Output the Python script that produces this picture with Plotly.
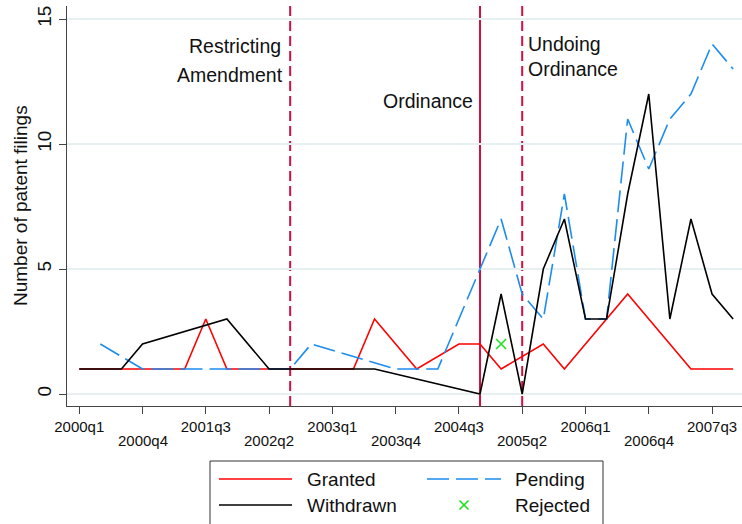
import plotly.graph_objects as go

# ---------------- data ----------------
quarters = ["2000q1", "2000q2", "2000q3", "2000q4", "2001q1", "2001q2", "2001q3", "2001q4",
            "2002q1", "2002q2", "2002q3", "2002q4", "2003q1", "2003q2", "2003q3", "2003q4",
            "2004q1", "2004q2", "2004q3", "2004q4", "2005q1", "2005q2", "2005q3", "2005q4",
            "2006q1", "2006q2", "2006q3", "2006q4", "2007q1", "2007q2", "2007q3", "2007q4"]

granted = [1, 1, 1, 1, 1, 1, 3, 1, 1, 1, 1, 1, 1, 1, 3, None,
           1, None, 2, 2, 1, None, 2, 1, None, None, 4, None, None, 1, 1, 1]
withdrawn = [1, 1, 1, 2, None, None, None, 3, None, 1, 1, 1, 1, 1, 1, None,
             None, None, None, 0, 4, 0, 5, 7, 3, 3, 8, 12, 3, 7, 4, 3]
pending = [None, 2, None, 1, 1, 1, 1, 1, 1, 1, 1, 2, None, None, None, 1,
           1, 1, None, None, 7, 4, 3, 8, 3, 3, 11, 9, 11, 12, 14, 13]
rejected = [None] * 20 + [2] + [None] * 11

tick_labels = ["2000q1", "2000q4", "2001q3", "2002q2", "2003q1", "2003q4",
               "2004q3", "2005q2", "2006q1", "2006q4", "2007q3"]
y_ticks = [0, 5, 10, 15]

events = {"2002q3": "dash", "2004q4": "solid", "2005q2": "dash"}

# ---------------- layout helpers ----------------
W, H = 742, 524
ML, MR, MT, MB = 67, 0, 6, 118
PW, PH = W - ML - MR, H - MT - MB


def px_x(px):
    return (px - ML) / PW


def px_y(py):
    return (H - MB - py) / PH


FONT = "Liberation Sans, Arial, sans-serif"
RED = "#ff0000"
BLUE = "#1c8cf0"
BLACK = "#000000"
GREEN = "#1ee01e"
CRAN = "#cf1041"

x = list(range(len(quarters)))
qidx = {q: i for i, q in enumerate(quarters)}
tickvals = [qidx[t] for t in tick_labels]

fig = go.Figure()
fig.add_trace(go.Scatter(x=x, y=granted, mode="lines", name="Granted", connectgaps=True,
                         line=dict(color=RED, width=1.6)))
fig.add_trace(go.Scatter(x=x, y=pending, mode="lines", name="Pending", connectgaps=True,
                         line=dict(color=BLUE, width=1.6, dash="22px,7px")))
fig.add_trace(go.Scatter(x=x, y=withdrawn, mode="lines", name="Withdrawn", connectgaps=True,
                         line=dict(color=BLACK, width=1.6)))
fig.add_trace(go.Scatter(x=x, y=rejected, mode="markers", name="Rejected",
                         marker=dict(symbol="x-thin", size=10, line=dict(color=GREEN, width=1.6))))

shapes = []
for q, d in events.items():
    shapes.append(dict(type="line", xref="x", yref="paper", x0=qidx[q], x1=qidx[q], y0=0, y1=1,
                       line=dict(color=CRAN, width=2, dash="10px,5px" if d == "dash" else "solid"),
                       layer="between"))

annotations = []
# event labels
ev_text = [
    ("Restricting", "2002q3", -7, 45.5, "right"),
    ("Amendment", "2002q3", -5, 74.5, "right"),
    ("Ordinance", "2004q4", -5, 101, "right"),
    ("Undoing", "2005q2", 4, 44, "left"),
    ("Ordinance", "2005q2", 4, 68.5, "left"),
]
for t, q, dx, py, anc in ev_text:
    annotations.append(dict(text=t, xref="x", yref="paper", x=qidx[q], y=px_y(py), xshift=dx,
                            xanchor=anc, yanchor="middle", showarrow=False,
                            font=dict(family=FONT, size=19.5, color="#111")))

# second row of x tick labels
for i, t in enumerate(tick_labels):
    if i % 2 == 1:
        annotations.append(dict(text=t, xref="x", yref="paper", x=qidx[t], y=px_y(441),
                                xanchor="center", yanchor="middle", showarrow=False,
                                font=dict(family=FONT, size=15, color="#111")))

# y title
annotations.append(dict(text="Number of patent filings", xref="paper", yref="paper",
                        x=px_x(20), y=0.5, textangle=-90, xanchor="center", yanchor="middle",
                        showarrow=False, font=dict(family=FONT, size=19, color="#111")))

# manual legend
shapes.append(dict(type="rect", xref="paper", yref="paper", x0=px_x(210), x1=px_x(603),
                   y0=px_y(461), y1=px_y(526), line=dict(color="#333", width=1), fillcolor="white",
                   layer="above"))
leg = [("Granted", 219, 292, 305, 479, RED, "solid"),
       ("Pending", 427, 501, 513, 479, BLUE, "22px,7px"),
       ("Withdrawn", 219, 292, 305, 505, BLACK, "solid"),
       ("Rejected", None, None, 513, 505, GREEN, None)]
for name, a, b, tx, ty, col, dash in leg:
    if a is not None:
        shapes.append(dict(type="line", xref="paper", yref="paper", x0=px_x(a), x1=px_x(b),
                           y0=px_y(ty), y1=px_y(ty), line=dict(color=col, width=1.6, dash=dash),
                           layer="above"))
    else:
        cx, cy, r = 464, ty, 4.5
        for s in (1, -1):
            shapes.append(dict(type="line", xref="paper", yref="paper", x0=px_x(cx - r), x1=px_x(cx + r),
                               y0=px_y(cy - s * r), y1=px_y(cy + s * r), line=dict(color=col, width=1.6),
                               layer="above"))
    annotations.append(dict(text=name, xref="paper", yref="paper", x=px_x(tx), y=px_y(ty),
                            xanchor="left", yanchor="middle", showarrow=False,
                            font=dict(family=FONT, size=19, color="#111")))

fig.update_layout(
    width=W, height=H, margin=dict(l=ML, r=MR, t=MT, b=MB),
    paper_bgcolor="white", plot_bgcolor="white", showlegend=False,
    font=dict(family=FONT, color="#111"),
    shapes=shapes, annotations=annotations,
    xaxis=dict(range=[-0.58, 31.42], tickvals=tickvals,
               ticktext=[t if i % 2 == 0 else "" for i, t in enumerate(tick_labels)],
               ticks="outside", ticklen=7, tickwidth=1.3, tickcolor="#444",
               showline=True, linecolor="#444", linewidth=1.3, showgrid=False, zeroline=False,
               tickfont=dict(family=FONT, size=15, color="#111")),
    yaxis=dict(range=[-0.48, 15.52], tickvals=y_ticks, tickangle=-90,
               ticks="outside", ticklen=7, tickwidth=1.3, tickcolor="#444",
               showline=True, linecolor="#444", linewidth=1.3,
               showgrid=True, gridcolor="#e8eff1", gridwidth=1.5, zeroline=False,
               tickfont=dict(family=FONT, size=19, color="#111")),
)

fig.write_html("out.html", config={"displayModeBar": False},
               post_script="document.body.style.margin='0';document.body.style.overflow='hidden';")
